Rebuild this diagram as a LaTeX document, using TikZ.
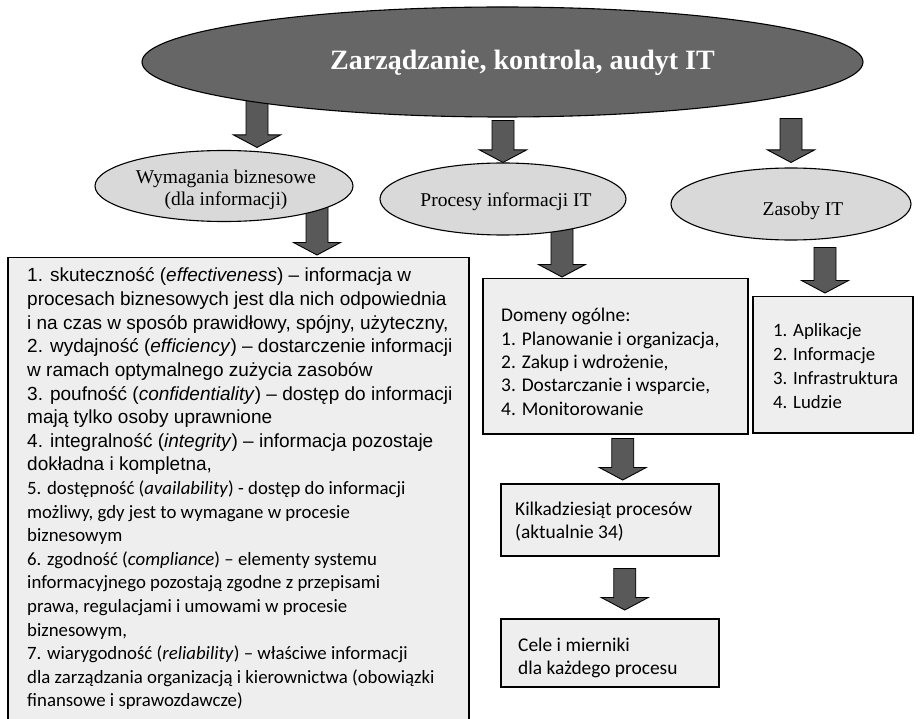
\documentclass[tikz,border=0pt]{standalone}
\usepackage{fontspec}
\setmainfont{Liberation Serif}
\newfontfamily\arialf{Liberation Sans}
\newfontfamily\calf{Carlito}
\usetikzlibrary{shapes.geometric,calc}
\pgfdeclarelayer{bg}
\pgfsetlayers{bg,main}
\definecolor{topfill}{HTML}{666666}
\definecolor{ellfill}{HTML}{D9D9D9}
\definecolor{boxfill}{HTML}{EEEEEE}
\definecolor{arrowfill}{HTML}{595959}
% block arrow: source node, x offset, y offset from source south, target node, gap above target north
\newcommand\barr[5]{%
  \draw[blockarrow] let \p1=($(#1.south)+(#2,#3)$), \p2=(#4.north) in
  (\x1-11pt,\y1) -- (\x1+11pt,\y1) -- (\x1+11pt,\y2+#5pt+12.5pt) -- (\x1+23.5pt,\y2+#5pt+12.5pt)
  -- (\x1,\y2+#5pt) -- (\x1-23.5pt,\y2+#5pt+12.5pt) -- (\x1-11pt,\y2+#5pt+12.5pt) -- cycle;}
\begin{document}
\begin{tikzpicture}[x=1pt,y=-1pt,
  ell/.style={ellipse, draw=black, line width=1.1pt, inner sep=0pt},
  box/.style={rectangle, draw=black, line width=1.5pt, fill=boxfill, inner sep=0pt, anchor=north west},
  blockarrow/.style={draw=black, line width=0.9pt, fill=arrowfill, line join=miter},
  serift/.style={anchor=base, inner sep=0pt, font=\fontsize{19.5}{22}\selectfont},
  ariall/.style={anchor=base west, inner sep=0pt, font=\arialf\fontsize{19}{23}\selectfont},
  call/.style={anchor=base west, inner sep=0pt, font=\calf\fontsize{18.8}{23}\selectfont},
  cals/.style={anchor=base west, inner sep=0pt, font=\calf\fontsize{19.4}{23}\selectfont}]
\useasboundingbox (0,0) rectangle (921,719);
% ellipses
\node[ell, fill=topfill, minimum width=721pt, minimum height=110pt] (top) at (502.5,62) {};
\node[anchor=base, inner sep=0pt, text=white, font=\fontsize{28}{30}\selectfont\bfseries] (title) at (522.5,70) {Zarządzanie, kontrola, audyt IT};
\node[ell, fill=ellfill, minimum width=258pt, minimum height=71pt] (wym) at (224,186) {};
\node[serift] (wymt1) at (226,183.5) {Wymagania biznesowe};
\node[serift] (wymt2) at (226,205.5) {(dla informacji)};
\node[ell, fill=ellfill, minimum width=246pt, minimum height=72pt] (proc) at (503,199) {};
\node[serift] (proct) at (506,207) {Procesy informacji IT};
\node[ell, fill=ellfill, minimum width=240pt, minimum height=72pt] (zas) at (791,204) {};
\node[serift] (zast) at (803,216) {Zasoby IT};
% boxes
\node[box, minimum width=461pt, minimum height=468pt] (req) at (7,257) {};
\node[box, minimum width=265pt, minimum height=155pt] (dom) at (482,278) {};
\node[box, minimum width=160pt, minimum height=136pt] (zbox) at (752,296) {};
\node[box, minimum width=218pt, minimum height=72pt] (kilka) at (500,483) {};
\node[box, minimum width=218pt, minimum height=68pt] (cele) at (500,618) {};
% requirement text
\foreach \t [count=\i] in {
  {1. skuteczność (\textit{effectiveness}) – informacja w},
  {procesach biznesowych jest dla nich odpowiednia},
  {i na czas w sposób prawidłowy, spójny, użyteczny,},
  {2. wydajność (\textit{efficiency}) – dostarczenie informacji},
  {w ramach optymalnego zużycia zasobów},
  {3. poufność (\textit{confidentiality}) – dostęp do informacji},
  {mają tylko osoby uprawnione},
  {4. integralność (\textit{integrity}) – informacja pozostaje},
  {dokładna i kompletna,}}
  \node[ariall] (ra\i) at (27,{282+23.6*(\i-1)}) {\t};
\foreach \t [count=\i] in {
  {5. dostępność (\textit{availability}) - dostęp do informacji},
  {możliwy, gdy jest to wymagane w procesie},
  {biznesowym},
  {6. zgodność (\textit{compliance}) – elementy systemu},
  {informacyjnego pozostają zgodne z przepisami},
  {prawa, regulacjami i umowami w procesie},
  {biznesowym,},
  {7. wiarygodność (\textit{reliability}) – właściwe informacji},
  {dla zarządzania organizacją i kierownictwa (obowiązki},
  {finansowe i sprawozdawcze)}}
  \node[call] (rb\i) at (27,{282+23.6*(\i+8)}) {\t};
% domains
\foreach \t [count=\i] in {
  {Domeny ogólne:},
  {1. Planowanie i organizacja,},
  {2. Zakup i wdrożenie,},
  {3. Dostarczanie i wsparcie,},
  {4. Monitorowanie}}
  \node[cals] (d\i) at (501,{322+23.3*(\i-1)}) {\t};
\foreach \t [count=\i] in {1. Aplikacje, 2. Informacje, 3. Infrastruktura, 4. Ludzie}
  \node[call] (z\i) at (773,{337+23.7*(\i-1)}) {\t};
\node[cals] (k1) at (515,515) {Kilkadziesiąt procesów};
\node[cals] (k2) at (515,538) {(aktualnie 34)};
\node[cals] (c1) at (518,651) {Cele i mierniki};
\node[cals] (c2) at (518,674) {dla każdego procesu};
% block arrows
\begin{pgfonlayer}{bg}
  \barr{top}{-245.5}{-20}{wym}{2.5}
  \barr{top}{0.5}{3}{proc}{0}
  \barr{top}{288.5}{1}{zas}{5}
  \barr{wym}{93}{-20}{req}{2}
  \barr{proc}{59}{-10}{dom}{1}
  \barr{zas}{34}{7}{zbox}{3}
  \barr{dom}{7.5}{4}{kilka}{3}
  \barr{kilka}{15}{12}{cele}{8}
\end{pgfonlayer}
\end{tikzpicture}
\end{document}
